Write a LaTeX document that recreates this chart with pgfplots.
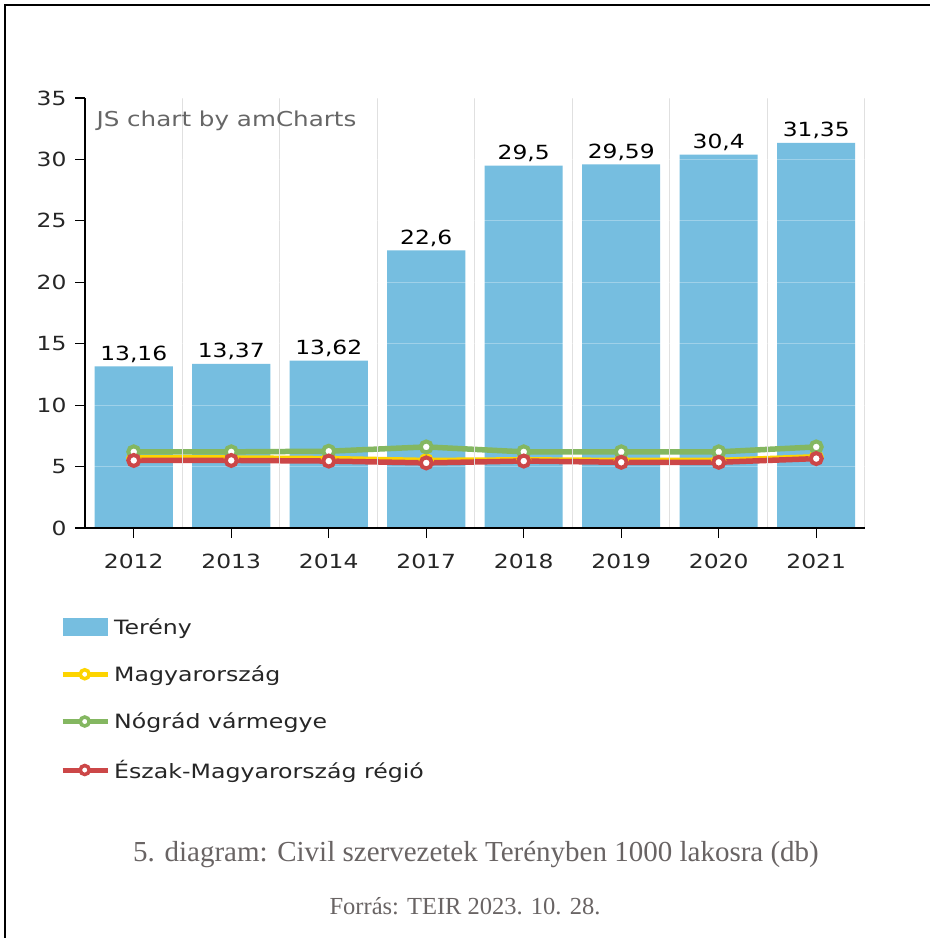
\documentclass[border=0pt]{standalone}
\usepackage{fontspec}
\setmainfont{Liberation Serif}
\newfontfamily\chartfont{DejaVu Sans}[FakeStretch=1.2]
\usepackage{pgfplots}
\pgfplotsset{compat=1.18}
\usepackage{pgfplotstable}
\definecolor{barblue}{RGB}{118,190,224}
\definecolor{hyellow}{HTML}{FDD400}
\definecolor{hgreen}{HTML}{84B761}
\definecolor{hred}{HTML}{CC4748}
\definecolor{capgray}{RGB}{105,100,100}

\pgfplotstableread{
x y label
0 13.16 13,16
1 13.37 13,37
2 13.62 13,62
3 22.6 22,6
4 29.5 29,5
5 29.59 29,59
6 30.4 30,4
7 31.35 31,35
}\bartable

\pgfplotstableread{
x yel grn red
0 5.70 6.20 5.50
1 5.70 6.20 5.50
2 5.65 6.25 5.45
3 5.50 6.60 5.30
4 5.55 6.20 5.45
5 5.50 6.20 5.35
6 5.50 6.20 5.35
7 5.80 6.60 5.65
}\linetable

\newcommand{\cf}{\chartfont\fontsize{19.5}{23}\selectfont}
\newcommand{\lf}{\chartfont\fontsize{19.7}{23}\selectfont}

\begin{document}
\begin{tikzpicture}[x=1pt,y=1pt]
\fill[white] (0,0) rectangle (930,-938);
\path[use as bounding box] (0,0) rectangle (930,-938);
\draw[line width=2.5pt] (5,-938) -- (5,-5) -- (930,-5);
\begin{axis}[
  at={(85pt,-528pt)}, anchor=south west,
  width=780pt, height=430pt, scale only axis,
  xmin=-0.5, xmax=7.5, ymin=0, ymax=35,
  axis x line=bottom, axis y line=left,
  axis line style={-, black, line width=1.3pt},
  xtick={0,...,7},
  xticklabels={2012,2013,2014,2017,2018,2019,2020,2021},
  ytick={0,5,...,35},
  tick align=outside, major tick length=10pt,
  tick style={black, line width=1.1pt},
  minor xtick={-0.5,0.5,...,7.5}, xminorgrids,
  minor grid style={black!12, line width=1pt}, minor tick length=0pt,
  ymajorgrids, major grid style={white, opacity=0.3, line width=1pt},
  axis on top,
  ticklabel style={font=\cf, text=black!85},
  yticklabel style={xshift=-5pt},
  xticklabel style={yshift=-12pt},
  /pgf/number format/assume math mode=true,
  legend cell align=left,
  legend style={at={(-0.032,-0.205)}, anchor=north west, draw=none, fill=none,
    font=\lf, text=black!85, row sep=26pt, inner sep=0pt,
    nodes={inner xsep=4pt}},
]
\addplot[ybar, bar width=78pt, fill=barblue, draw=none,
  nodes near coords, point meta=explicit symbolic,
  nodes near coords style={font=\cf, text=black, anchor=base, yshift=6pt},
  legend image code/.code={\fill[barblue] (0pt,-9pt) rectangle (45pt,9pt);}]
  table[x=x, y=y, meta=label]{\bartable};
\addlegendentry{Terény}
\addplot[hyellow, line width=5.5pt, mark=*, mark size=5.5pt,
  mark options={fill=white, draw=hyellow, line width=4pt},
  legend image code/.code={\draw[hyellow, line width=5pt] (0pt,0pt) -- (45pt,0pt);
    \draw[hyellow, fill=white, line width=3.5pt] (22pt,0pt) circle (4.5pt);}]
  table[x=x, y=yel]{\linetable};
\addlegendentry{Magyarország}
\addplot[hgreen, line width=5.5pt, mark=*, mark size=5.5pt,
  mark options={fill=white, draw=hgreen, line width=4pt},
  legend image code/.code={\draw[hgreen, line width=5pt] (0pt,0pt) -- (45pt,0pt);
    \draw[hgreen, fill=white, line width=3.5pt] (22pt,0pt) circle (4.5pt);}]
  table[x=x, y=grn]{\linetable};
\addlegendentry{Nógrád vármegye}
\addplot[hred, line width=5.5pt, mark=*, mark size=5.5pt,
  mark options={fill=white, draw=hred, line width=4pt},
  legend image code/.code={\draw[hred, line width=5pt] (0pt,0pt) -- (45pt,0pt);
    \draw[hred, fill=white, line width=3.5pt] (22pt,0pt) circle (4.5pt);}]
  table[x=x, y=red]{\linetable};
\addlegendentry{Észak-Magyarország régió}
\end{axis}
\node[anchor=west, font=\chartfont\fontsize{20.5}{24}\selectfont, text=black!60] at (93,-121) {JS chart by amCharts};
\node[font=\fontsize{29}{34}\selectfont, text=capgray] at (476,-855) {5. diagram: Civil szervezetek Terényben 1000 lakosra (db)};
\node[font=\fontsize{24.5}{29}\selectfont, text=capgray] at (465,-906) {Forrás: TEIR 2023. 10. 28.};
\end{tikzpicture}
\end{document}
